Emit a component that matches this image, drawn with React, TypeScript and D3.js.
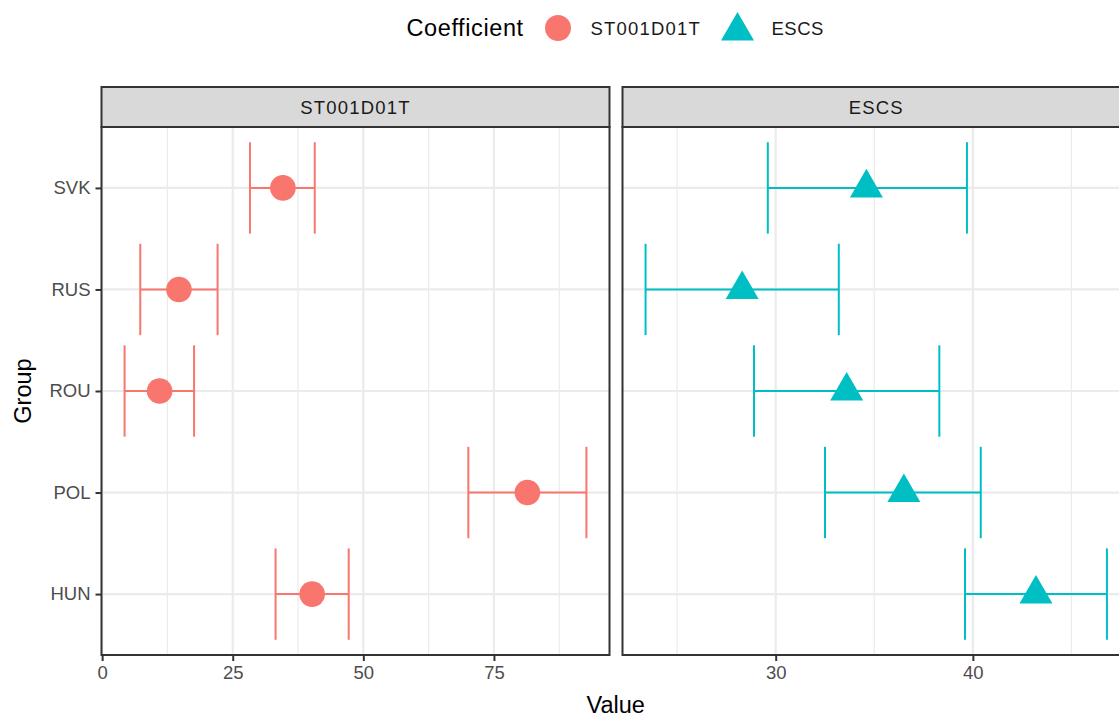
import React from "react";
import * as d3 from "d3";

// country groups, bottom to top
const groups = ["HUN", "POL", "ROU", "RUS", "SVK"];

// ST001D01T coefficient
const stEstimate = [40.2, 81.4, 11.0, 14.7, 34.6];
const stLower = [33.2, 70.1, 4.3, 7.3, 28.3];
const stUpper = [47.2, 92.7, 17.6, 22.1, 40.7];

// ESCS coefficient
const escsEstimate = [43.2, 36.5, 33.6, 28.3, 34.6];
const escsLower = [39.6, 32.5, 28.9, 23.4, 29.6];
const escsUpper = [46.8, 40.4, 38.3, 33.2, 39.7];

const stTicks = [0, 25, 50, 75];
const stMinor = [12.5, 37.5, 62.5, 87.5];
const escsTicks = [30, 40];
const escsMinor = [25, 35, 45];

const RED = "#F8766D";
const TEAL = "#00BFC4";
const FONT = "'Liberation Sans', Arial, Helvetica, sans-serif";

const App = () => {
  const ref = React.useRef<SVGSVGElement>(null);

  React.useEffect(() => {
    const svg = d3.select(ref.current);
    svg.selectAll("*").remove();

    const top = 127;
    const bottom = 655;
    const stripTop = 87;

    const y = d3.scalePoint().domain(groups).range([bottom, top]).padding(0.6);
    const step = y.step();

    const triangle = (s) => {
      const h = (s * Math.sqrt(3)) / 2;
      return `M0,${(-2 * h) / 3}L${s / 2},${h / 3}L${-s / 2},${h / 3}Z`;
    };

    // expanded limits like ggplot (5% each side)
    const expand = (lo, hi) => {
      const r = hi - lo;
      return [lo - r * 0.05, hi + r * 0.05];
    };

    const panels = [
      {
        name: "ST001D01T",
        x0: 101.5,
        x1: 609.5,
        est: stEstimate,
        lo: stLower,
        hi: stUpper,
        ticks: stTicks,
        minor: stMinor,
        color: RED,
        shape: "circle",
        showY: true,
      },
      {
        name: "ESCS",
        x0: 622.5,
        x1: 1130,
        est: escsEstimate,
        lo: escsLower,
        hi: escsUpper,
        ticks: escsTicks,
        minor: escsMinor,
        color: TEAL,
        shape: "triangle",
        showY: false,
      },
    ];

    panels.forEach((p) => {
      const x = d3
        .scaleLinear()
        .domain(expand(d3.min(p.lo), d3.max(p.hi)))
        .range([p.x0, p.x1]);

      const g = svg.append("g");

      g.append("rect")
        .attr("x", p.x0)
        .attr("y", top)
        .attr("width", p.x1 - p.x0)
        .attr("height", bottom - top)
        .attr("fill", "white");

      // minor grid
      g.selectAll(".minor")
        .data(p.minor)
        .join("line")
        .attr("x1", (d) => x(d))
        .attr("x2", (d) => x(d))
        .attr("y1", top)
        .attr("y2", bottom)
        .attr("stroke", "#EBEBEB")
        .attr("stroke-width", 1.2);

      // major grid
      g.selectAll(".majorx")
        .data(p.ticks)
        .join("line")
        .attr("x1", (d) => x(d))
        .attr("x2", (d) => x(d))
        .attr("y1", top)
        .attr("y2", bottom)
        .attr("stroke", "#EBEBEB")
        .attr("stroke-width", 2.2);

      g.selectAll(".majory")
        .data(groups)
        .join("line")
        .attr("x1", p.x0)
        .attr("x2", p.x1)
        .attr("y1", (d) => y(d))
        .attr("y2", (d) => y(d))
        .attr("stroke", "#EBEBEB")
        .attr("stroke-width", 2.2);

      // error bars
      const rows = groups.map((grp, i) => ({ grp, est: p.est[i], lo: p.lo[i], hi: p.hi[i] }));
      const eb = g.selectAll(".eb").data(rows).join("g").attr("stroke", p.color).attr("stroke-width", 2);
      eb.append("line")
        .attr("x1", (d) => x(d.lo))
        .attr("x2", (d) => x(d.hi))
        .attr("y1", (d) => y(d.grp))
        .attr("y2", (d) => y(d.grp));
      eb.append("line")
        .attr("x1", (d) => x(d.lo))
        .attr("x2", (d) => x(d.lo))
        .attr("y1", (d) => y(d.grp) - step * 0.45)
        .attr("y2", (d) => y(d.grp) + step * 0.45);
      eb.append("line")
        .attr("x1", (d) => x(d.hi))
        .attr("x2", (d) => x(d.hi))
        .attr("y1", (d) => y(d.grp) - step * 0.45)
        .attr("y2", (d) => y(d.grp) + step * 0.45);

      // points
      if (p.shape === "circle") {
        g.selectAll(".pt")
          .data(rows)
          .join("circle")
          .attr("cx", (d) => x(d.est))
          .attr("cy", (d) => y(d.grp))
          .attr("r", 12.8)
          .attr("fill", p.color);
      } else {
        g.selectAll(".pt")
          .data(rows)
          .join("path")
          .attr("transform", (d) => `translate(${x(d.est)},${y(d.grp)})`)
          .attr("d", triangle(33))
          .attr("fill", p.color);
      }

      // panel border
      g.append("rect")
        .attr("x", p.x0)
        .attr("y", top)
        .attr("width", p.x1 - p.x0)
        .attr("height", bottom - top)
        .attr("fill", "none")
        .attr("stroke", "#333333")
        .attr("stroke-width", 2);

      // strip
      g.append("rect")
        .attr("x", p.x0)
        .attr("y", stripTop)
        .attr("width", p.x1 - p.x0)
        .attr("height", top - stripTop)
        .attr("fill", "#D9D9D9")
        .attr("stroke", "#333333")
        .attr("stroke-width", 2);
      g.append("text")
        .attr("x", (p.x0 + p.x1) / 2)
        .attr("y", (stripTop + top) / 2)
        .attr("dy", "0.36em")
        .attr("text-anchor", "middle")
        .attr("font-family", FONT)
        .attr("font-size", 18.5)
        .attr("letter-spacing", 1.2)
        .attr("fill", "#1A1A1A")
        .text(p.name);

      // x axis
      const xAxis = g
        .append("g")
        .attr("transform", `translate(0,${bottom})`)
        .call(d3.axisBottom(x).tickValues(p.ticks).tickSize(6).tickPadding(5).tickFormat(d3.format("d")));
      xAxis.select(".domain").remove();
      xAxis.selectAll(".tick line").attr("stroke", "#333333").attr("stroke-width", 2);
      xAxis
        .selectAll(".tick text")
        .attr("fill", "#4D4D4D")
        .attr("font-family", FONT)
        .attr("font-size", 18.5);

      if (p.showY) {
        const yAxis = g
          .append("g")
          .attr("transform", `translate(${p.x0},0)`)
          .call(d3.axisLeft(y).tickSize(6).tickPadding(5));
        yAxis.select(".domain").remove();
        yAxis.selectAll(".tick line").attr("stroke", "#333333").attr("stroke-width", 2);
        yAxis
          .selectAll(".tick text")
          .attr("fill", "#4D4D4D")
          .attr("font-family", FONT)
          .attr("font-size", 18.5);
      }
    });

    // axis titles
    svg.append("text")
      .attr("x", (101.5 + 1130) / 2)
      .attr("y", 713)
      .attr("text-anchor", "middle")
      .attr("font-family", FONT)
      .attr("font-size", 23.5)
      .text("Value");

    svg.append("text")
      .attr("transform", `translate(30.5,${(top + bottom) / 2}) rotate(-90)`)
      .attr("text-anchor", "middle")
      .attr("font-family", FONT)
      .attr("font-size", 23.5)
      .text("Group");

    // legend
    const legend = svg.append("g").attr("font-family", FONT);
    legend.append("text")
      .attr("x", 406.5)
      .attr("y", 28)
      .attr("dy", "0.36em")
      .attr("font-size", 23.5)
      .attr("letter-spacing", 0.6)
      .text("Coefficient");
    legend.append("circle").attr("cx", 558).attr("cy", 28).attr("r", 13).attr("fill", RED);
    legend.append("text")
      .attr("x", 590.5)
      .attr("y", 28)
      .attr("dy", "0.36em")
      .attr("font-size", 18.5)
      .attr("letter-spacing", 1.2)
      .attr("fill", "#1A1A1A")
      .text("ST001D01T");
    legend.append("path")
      .attr("transform", "translate(737.5,31)")
      .attr("d", triangle(33))
      .attr("fill", TEAL);
    legend.append("text")
      .attr("x", 771.5)
      .attr("y", 28)
      .attr("dy", "0.36em")
      .attr("font-size", 18.5)
      .attr("letter-spacing", 0.5)
      .attr("fill", "#1A1A1A")
      .text("ESCS");
  }, []);

  return (
    <svg
      ref={ref}
      width={1119}
      height={719}
      style={{ position: "absolute", left: 0, top: 0, background: "white" }}
    />
  );
};

export default App;
